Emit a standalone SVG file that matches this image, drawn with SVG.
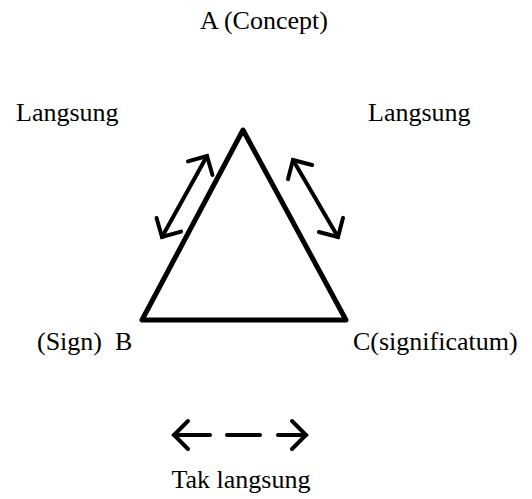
<svg xmlns="http://www.w3.org/2000/svg" width="532" height="499" viewBox="0 0 532 499">
<style>
.t{font-family:"Liberation Serif","Times New Roman",serif;font-size:26px;fill:#000;white-space:pre}
.c{fill:none;stroke:#000;stroke-width:4;stroke-linecap:round;stroke-linejoin:round}
</style>
<defs>
<marker id="chev" markerUnits="userSpaceOnUse" markerWidth="40" markerHeight="40" viewBox="-20 -20 40 40" refX="0" refY="0" orient="auto-start-reverse" overflow="visible">
<path d="M-14,-14 L0,0 L-14,14" fill="none" stroke="#000" stroke-width="4" stroke-linecap="round" stroke-linejoin="miter"/>
</marker>
</defs>
<rect width="532" height="499" fill="#fff"/>
<g id="triangle">
<polygon points="243,130 142,320 346,320" fill="none" stroke="#000" stroke-width="5" stroke-linejoin="round"/>
</g>
<g id="nodeA"><text class="t" x="264" y="29" text-anchor="middle">A (Concept)</text></g>
<g id="nodeB"><text class="t" x="37" y="350">(Sign)  B</text></g>
<g id="nodeC"><text class="t" x="353" y="350">C(significatum)</text></g>
<g id="labels">
<text class="t" x="16" y="121">Langsung</text>
<text class="t" x="368" y="121">Langsung</text>
<text class="t" x="241" y="488" text-anchor="middle">Tak langsung</text>
</g>
<g id="connectors">
<line class="c" x1="207" y1="156" x2="162" y2="237" marker-start="url(#chev)" marker-end="url(#chev)"/>
<line class="c" x1="293" y1="160" x2="338" y2="237" marker-start="url(#chev)" marker-end="url(#chev)"/>
<line class="c" x1="210" y1="435" x2="174" y2="435" marker-end="url(#chev)"/>
<line class="c" x1="227" y1="435" x2="260" y2="435"/>
<line class="c" x1="278" y1="435" x2="306" y2="435" marker-end="url(#chev)"/>
</g>
</svg>
